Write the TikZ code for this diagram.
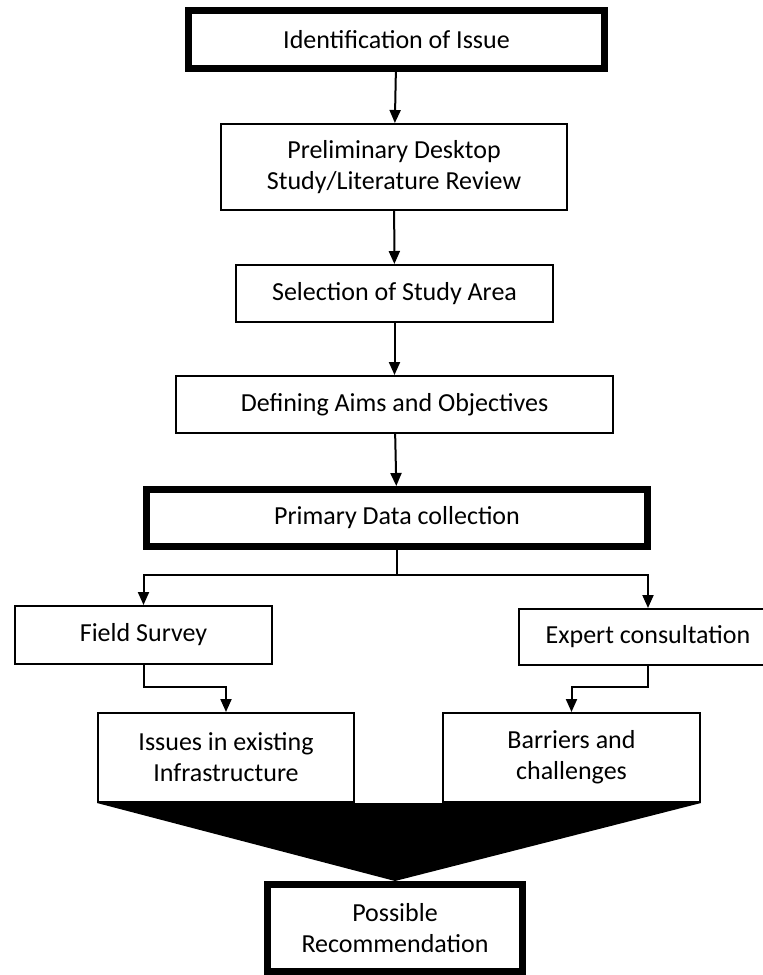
\documentclass[tikz,border=0pt]{standalone}
\usepackage{fontspec}
\setmainfont{Carlito}
\usetikzlibrary{arrows.meta}
\tikzset{
  every picture/.style={font=\fontsize{26}{31}\selectfont},
  box/.style={draw, line width=2pt, align=center, inner sep=0pt, fill=white},
  thickbox/.style={box, line width=7pt},
  arrow/.style={-{Triangle[length=13pt, width=11pt]}, line width=2pt},
}

\begin{document}
\begin{tikzpicture}[x=1pt, y=-1pt]
  \path[use as bounding box] (0,0) rectangle (763,975);
  \clip (0,0) rectangle (763,975);
  % main column
  \node[thickbox, minimum width=416pt, minimum height=58pt] (issue) at (396.5,39.5) {Identification of Issue};
  \node[box, minimum width=346pt, minimum height=86pt] (review) at (394,167) {Preliminary Desktop\\Study/Literature Review};
  \node[box, minimum width=317pt, minimum height=57pt] (area) at (394.5,293.5) {Selection of Study Area};
  \node[box, minimum width=437pt, minimum height=57pt] (aims) at (394.5,404.5) {Defining Aims and Objectives};
  \node[thickbox, minimum width=501pt, minimum height=57pt] (primary) at (397,518) {Primary Data collection};
  \draw[arrow] (issue) -- (review);
  \draw[arrow] (review) -- (area);
  \draw[arrow] (area) -- (aims);
  \draw[arrow] (aims) -- (primary);
  % two branches
  \node[box, minimum width=257pt, minimum height=58pt] (field) at (143.5,635) {Field Survey};
  \node[box, minimum width=258pt, minimum height=56pt] (expert) at (648,637) {Expert consultation};
  \node[box, minimum width=256pt, minimum height=89pt] (infra) at (226,757.5) {Issues in existing\\Infrastructure};
  \node[box, minimum width=257pt, minimum height=89pt] (barriers) at (571.5,757.5) {Barriers and\\challenges};
  \coordinate (split) at (397,575);
  \draw[line width=2pt] (primary.south) -- (split);
  \draw[arrow] (split) -| (field.north);
  \draw[arrow] (split) -| (expert.north);
  \draw[arrow] (field.south) -- ++(0,22) -| (infra.north);
  \draw[arrow] (expert.south) -- ++(0,21) -| (barriers.north);
  % funnel into the result
  \node[thickbox, minimum width=255pt, minimum height=87pt] (recom) at (395,928) {Possible\\Recommendation};
  \fill (infra.south west) -- (barriers.south east) -- (recom.north) -- cycle;
\end{tikzpicture}
\end{document}
